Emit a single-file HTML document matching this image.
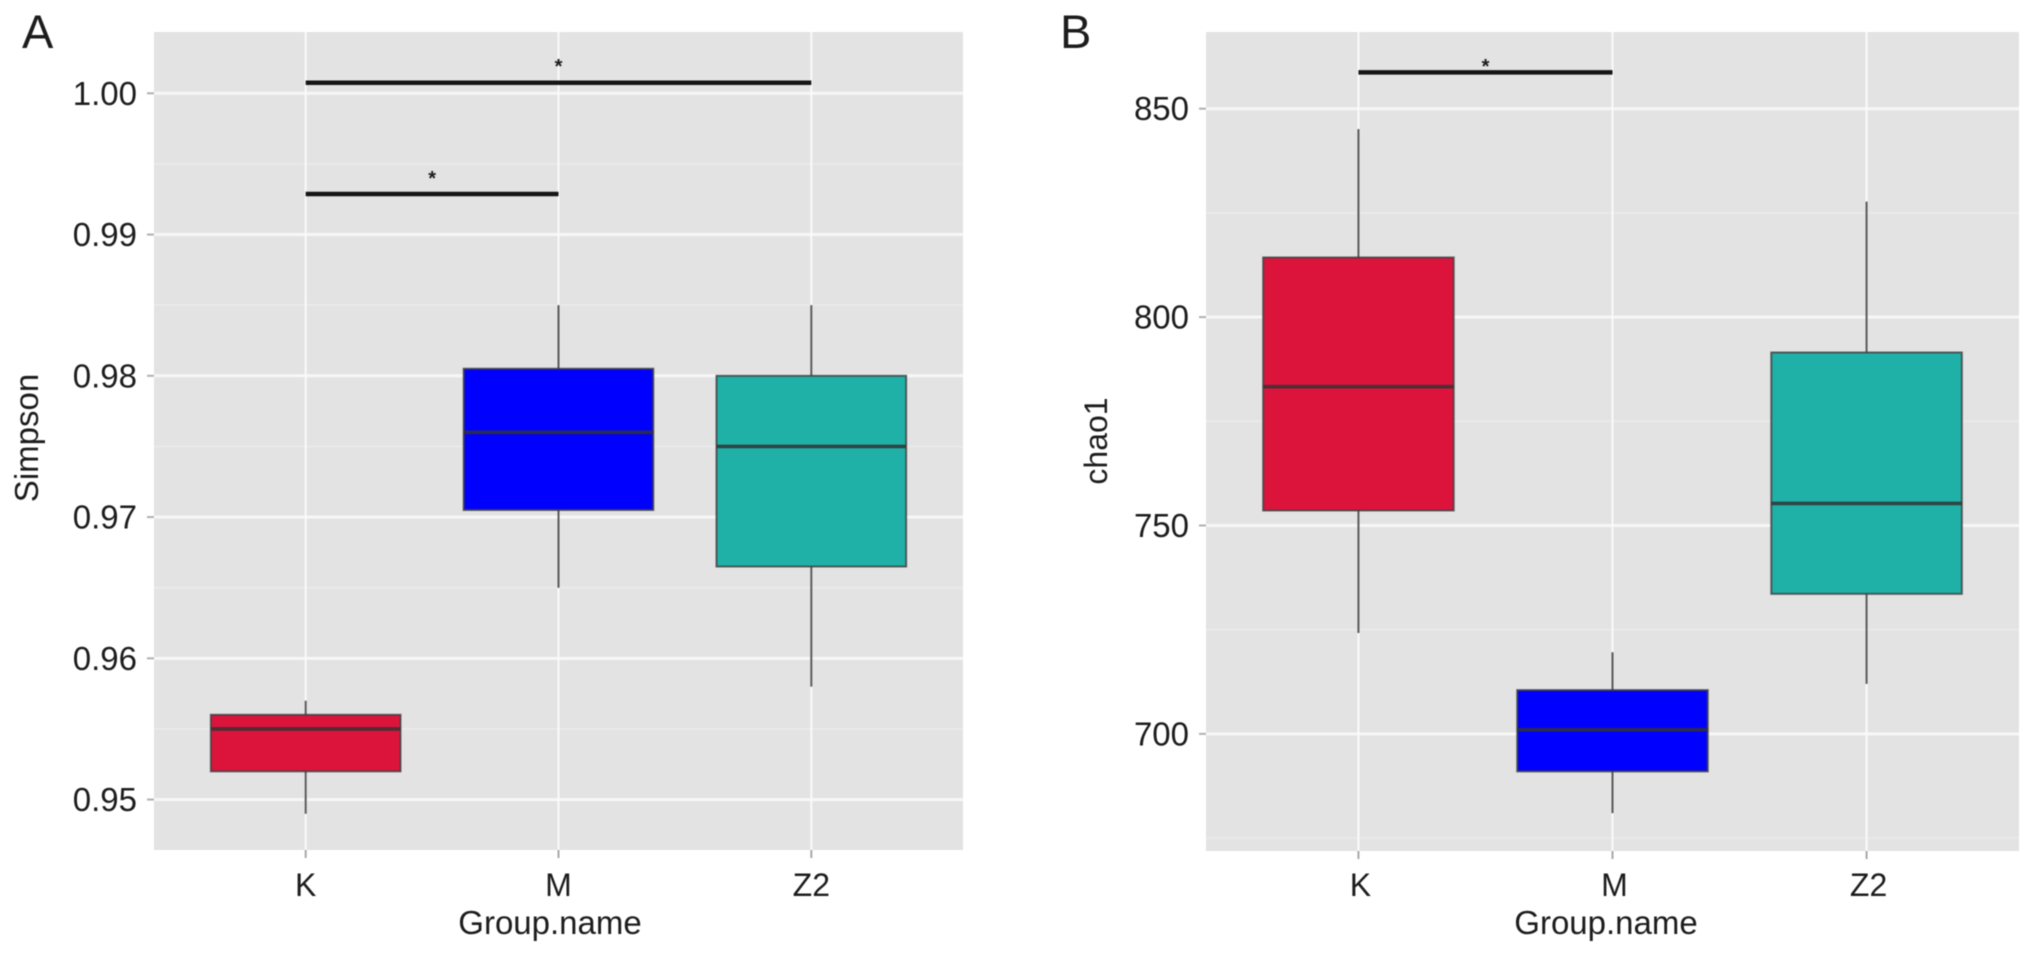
<!DOCTYPE html>
<html lang="en">
<head>
<meta charset="utf-8">
<title>Simpson and chao1 boxplots</title>
<style>
html,body{margin:0;padding:0;background:#fff;}
svg{display:block;filter:blur(0.6px);}
text{font-family:"Liberation Sans",sans-serif;fill:#1c1c1c;}
</style>
</head>
<body>
<svg id="figure" xmlns="http://www.w3.org/2000/svg" width="2032" height="954" viewBox="0 0 2032 954"></svg>
<script>
const categories = ['K', 'M', 'Z2'];
const boxColors = ['#dc143c', '#0000ff', '#1fb1a8'];

const simpsonTicks = ['0.95', '0.96', '0.97', '0.98', '0.99', '1.00'];
const simpsonMinorTicks = [0.955, 0.965, 0.975, 0.985, 0.995];
const simpsonWhiskerLow = [0.949, 0.965, 0.958];
const simpsonQ1 = [0.952, 0.9705, 0.9665];
const simpsonMedian = [0.955, 0.976, 0.975];
const simpsonQ3 = [0.956, 0.9805, 0.98];
const simpsonWhiskerHigh = [0.957, 0.985, 0.985];
const simpsonSigFrom = ['K', 'K'];
const simpsonSigTo = ['Z2', 'M'];
const simpsonSigValue = [1.00075, 0.99287];
const simpsonStarValue = [1.00214, 0.99422];

const chaoTicks = ['700', '750', '800', '850'];
const chaoMinorTicks = [675, 725, 775, 825];
const chaoWhiskerLow = [724.2, 681, 712];
const chaoQ1 = [753.6, 691, 733.6];
const chaoMedian = [783.3, 701, 755.3];
const chaoQ3 = [814.3, 710.5, 791.5];
const chaoWhiskerHigh = [845.1, 719.6, 827.7];
const chaoSigFrom = ['K'];
const chaoSigTo = ['M'];
const chaoSigValue = [858.7];
const chaoStarValue = [861];

const svg = document.getElementById('figure');
const NS = 'http://www.w3.org/2000/svg';

function make(tag, name, attrs, parent, content) {
  const el = document.createElementNS(NS, tag);
  
  
  for (const k in attrs) el.setAttribute(k, attrs[k]);
  if (content !== undefined) el.textContent = content;
  parent.appendChild(el);
  return el;
}

function drawPanel(p) {
  const g = make('g', p.id + '-panel', {}, svg);
  const y = v => p.top + (p.domainMax - v) / (p.domainMax - p.domainMin) * (p.bottom - p.top);
  const unit = (p.right - p.left) / 3.2;
  const x = i => p.left + (i + 0.6) * unit;
  const xc = c => x(categories.indexOf(c));

  make('rect', p.id + '-plot-background', {x: p.left, y: p.top, width: p.right - p.left, height: p.bottom - p.top, fill: '#e3e3e3'}, g);

  p.minor.forEach(v => {
    if (y(v) > p.top && y(v) < p.bottom) {
      make('line', p.id + '-minor-gridline', {x1: p.left, x2: p.right, y1: y(v), y2: y(v), stroke: '#ebebeb', 'stroke-width': 1.5}, g);
    }
  });
  p.ticks.forEach(t => {
    const v = parseFloat(t);
    make('line', p.id + '-major-gridline', {x1: p.left, x2: p.right, y1: y(v), y2: y(v), stroke: '#f7f7f7', 'stroke-width': 3}, g);
    make('line', p.id + '-y-tick', {x1: p.left - 7, x2: p.left, y1: y(v), y2: y(v), stroke: '#b0b0b0', 'stroke-width': 2}, g);
    make('text', p.id + '-y-tick-label', {x: p.left - 17, y: y(v) + 11.5, 'font-size': 33, 'text-anchor': 'end'}, g, t);
  });
  categories.forEach((c, i) => {
    make('line', p.id + '-vertical-gridline', {x1: x(i), x2: x(i), y1: p.top, y2: p.bottom, stroke: '#fafafa', 'stroke-width': 2}, g);
    make('line', p.id + '-x-tick', {x1: x(i), x2: x(i), y1: p.bottom, y2: p.bottom + 8, stroke: '#a8a8a8', 'stroke-width': 2}, g);
    make('text', p.id + '-x-tick-label', {x: x(i) + (p.tickShift || 0), y: 896, 'font-size': 32, 'text-anchor': 'middle'}, g, c);
  });

  categories.forEach((c, i) => {
    const bw = unit * 0.75;
    const box = make('g', p.id + '-box-' + c, {}, g);
    make('line', p.id + '-whisker-' + c, {x1: x(i), x2: x(i), y1: y(p.low[i]), y2: y(p.high[i]), stroke: '#5a5a5a', 'stroke-width': 2}, box);
    make('rect', p.id + '-iqr-' + c, {x: x(i) - bw / 2, y: y(p.q3[i]), width: bw, height: y(p.q1[i]) - y(p.q3[i]), fill: boxColors[i], stroke: '#3f3f3f', 'stroke-opacity': 0.8, 'stroke-width': 2}, box);
    make('line', p.id + '-median-' + c, {x1: x(i) - bw / 2, x2: x(i) + bw / 2, y1: y(p.med[i]), y2: y(p.med[i]), stroke: '#333333', 'stroke-opacity': 0.85, 'stroke-width': 3.6}, box);
  });

  p.sigValue.forEach((v, i) => {
    make('line', p.id + '-significance-bar', {x1: xc(p.sigFrom[i]), x2: xc(p.sigTo[i]), y1: y(v), y2: y(v), stroke: '#151515', 'stroke-width': 4.5}, g);
    make('text', p.id + '-significance-star', {x: (xc(p.sigFrom[i]) + xc(p.sigTo[i])) / 2, y: y(p.starValue[i]) + 10, 'font-size': 20, 'font-weight': 'bold', 'text-anchor': 'middle'}, g, '*');
  });

  make('text', p.id + '-x-axis-title', {x: p.xTitleX, y: 934, 'font-size': 33, 'text-anchor': 'middle'}, g, 'Group.name');
  make('text', p.id + '-y-axis-title', {transform: 'translate(' + p.yTitleX + ',' + p.yTitleY + ') rotate(-90)', 'font-size': p.yTitleSize, 'text-anchor': 'middle'}, g, p.yTitle);
  make('text', p.id + '-panel-letter', {x: p.letterX, y: 48, 'font-size': 47}, g, p.letter);
}

drawPanel({
  id: 'simpson', letter: 'A', letterX: 22, left: 154, right: 963, top: 32, bottom: 850,
  domainMin: 0.94643, domainMax: 1.00434,
  ticks: simpsonTicks, minor: simpsonMinorTicks,
  low: simpsonWhiskerLow, q1: simpsonQ1, med: simpsonMedian, q3: simpsonQ3, high: simpsonWhiskerHigh,
  sigFrom: simpsonSigFrom, sigTo: simpsonSigTo, sigValue: simpsonSigValue, starValue: simpsonStarValue,
  xTitleX: 550, yTitle: 'Simpson', yTitleX: 38, yTitleY: 438, yTitleSize: 33
});

drawPanel({
  id: 'chao1', letter: 'B', letterX: 1060, left: 1206, right: 2019, top: 32, bottom: 851,
  domainMin: 671.9, domainMax: 868.4,
  ticks: chaoTicks, minor: chaoMinorTicks,
  low: chaoWhiskerLow, q1: chaoQ1, med: chaoMedian, q3: chaoQ3, high: chaoWhiskerHigh,
  sigFrom: chaoSigFrom, sigTo: chaoSigTo, sigValue: chaoSigValue, starValue: chaoStarValue,
  tickShift: 2, xTitleX: 1606, yTitle: 'chao1', yTitleX: 1107, yTitleY: 441, yTitleSize: 32
});
</script>
</body>
</html>
